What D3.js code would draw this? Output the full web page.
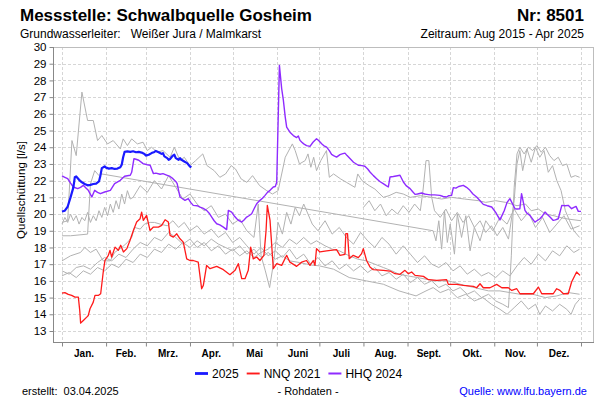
<!DOCTYPE html>
<html><head><meta charset="utf-8">
<script src="https://cdn.jsdelivr.net/npm/d3@7"></script>
<style>
body{margin:0;background:#fff;}
svg{display:block;font-family:"Liberation Sans",Arial,sans-serif;}
</style></head><body>
<svg id="chart" width="600" height="400"></svg>
<script>
// ---------- DATA ----------
const monthStarts = [0,31,59,90,120,151,181,212,243,273,304,334,365];
const monthLabels = ["Jan.","Feb.","Mrz.","Apr.","Mai","Juni","Juli","Aug.","Sept.","Okt.","Nov.","Dez."];
const yTicks = [13,14,15,16,17,18,19,20,21,22,23,24,25,26,27,28,29,30];
const legendLabels = ["2025","NNQ 2021","HHQ 2024"];

// [day of year, Quellschüttung l/s]
const series2025 = [[0,20.15],[2,20.2],[4,20.45],[6,21.0],[8,21.6],[9,22.2],[10,22.25],[12,22.05],[14,21.9],[16,21.8],[18,21.72],[20,21.75],[22,21.8],[24,21.82],[26,21.95],[27,22.3],[28,22.75],[30,22.85],[31,22.78],[33,22.72],[35,22.75],[37,22.7],[39,22.72],[41,22.8],[42,22.95],[43,23.4],[44,23.72],[46,23.75],[48,23.72],[50,23.76],[52,23.7],[54,23.72],[56,23.68],[58,23.6],[59,23.5],[61,23.55],[63,23.65],[65,23.72],[66,23.78],[68,23.7],[70,23.6],[71,23.65],[72,23.45],[74,23.35],[75,23.25],[76,23.3],[78,23.5],[79,23.55],[80,23.35],[82,23.25],[83,23.35],[84,23.25],[86,23.15],[88,23.05],[90,22.85],[91,22.8]];

const nnq2021 = [[0,15.27],[2,15.3],[4.4,15.19],[6.8,15.13],[9.1,15.03],[11.5,15.03],[12.5,14.2],[13.1,13.47],[15,13.63],[17.4,13.83],[18.5,13.93],[19.7,14.33],[22,14.73],[23.2,15.13],[25.5,15.13],[27.2,15.23],[29,16.53],[30.2,17.22],[32.6,17.53],[33.8,17.83],[34.9,17.43],[37.3,18.02],[39.6,17.83],[41.3,18.13],[43.2,17.73],[45.6,17.93],[47.8,18.42],[50.2,19.02],[52.5,19.52],[54.9,19.72],[56,20.12],[57.2,19.62],[59.5,19.92],[61.9,19.02],[64.3,19.22],[67.8,19.22],[70.1,19.32],[72.5,19.66],[74.8,19.52],[76,18.72],[78.3,18.62],[80.7,18.82],[83,18.52],[85.3,18.32],[87.7,17.32],[90,17.22],[92.3,17.22],[95.8,17.12],[98.2,15.53],[99.4,15.73],[101.7,16.93],[104.1,16.73],[108.8,16.87],[113.5,16.67],[118.1,16.37],[121.7,16.63],[124,17.03],[126.4,16.13],[128.7,16.13],[131,16.63],[132.7,18.02],[134.5,17.32],[136.9,17.43],[139.2,17.22],[142,17.53],[143.5,19.0],[144.4,20.52],[146.3,19.62],[148.6,16.73],[151,17.03],[154.5,16.93],[158,17.53],[160.3,17.12],[165,16.87],[168.5,17.12],[172,17.22],[174.4,16.93],[176.7,17.22],[177.9,16.93],[179,17.93],[181.4,17.73],[186.1,17.79],[193.1,17.87],[195.5,17.53],[199,17.59],[199.6,18.83],[200.8,18.83],[202,17.33],[204.8,17.53],[208.4,17.39],[210.7,17.63],[211.9,17.93],[214.2,17.22],[216.6,16.83],[218.9,16.67],[226,16.63],[230.7,16.59],[234.2,16.43],[237.7,16.39],[241.2,16.63],[243.6,16.43],[245.9,16.53],[248.3,16.33],[254.2,16.27],[257.7,16.07],[263.6,16.03],[270.5,16.07],[271.7,15.79],[277.6,15.79],[282.2,15.73],[289.3,15.67],[291.6,15.59],[294,15.83],[296.3,15.59],[301,15.59],[305.7,15.79],[309.3,15.59],[313.9,15.59],[316.3,15.43],[319.8,15.53],[322.1,15.23],[331.5,15.23],[335,15.63],[337.4,15.23],[345.5,15.23],[347.9,15.53],[350.2,15.43],[352.6,15.23],[356,15.23],[358.4,15.93],[361.9,16.53],[364.3,16.33]];

const hhq2024 = [[0,22.28],[2,22.2],[4,22.12],[6,21.85],[8,21.62],[11,21.52],[13,21.6],[15,21.72],[17,21.55],[18.5,21.42],[21,21.02],[23,21.42],[25,21.3],[27,21.22],[30,21.32],[34,21.42],[37,21.82],[41,22.02],[44,22.26],[48,22.32],[49,22.5],[50.6,23.32],[52,23.28],[54,23.22],[57,23.02],[60,22.95],[62,22.92],[63,22.7],[64.3,22.42],[66,22.45],[69,22.38],[71,22.42],[74,22.32],[76,22.25],[78,22.12],[80,21.95],[81,21.82],[82,21.4],[83,21.02],[85,20.9],[86.5,20.82],[88.8,20.92],[90.5,20.7],[92.3,20.52],[95,20.5],[97,20.42],[99,20.35],[101.7,20.22],[103.5,20.05],[105.3,19.82],[107,19.6],[108.8,19.42],[111,19.35],[113.5,19.22],[115.8,19.07],[117,20.22],[119.3,20.12],[121,19.9],[122.9,19.72],[124.5,19.6],[126.4,19.52],[128,19.65],[129.9,19.82],[131.5,19.9],[133.4,20.02],[135,20.3],[136.9,20.62],[139.2,20.82],[141,20.95],[142.8,21.12],[144.5,21.3],[146.3,21.42],[148.6,21.62],[150,21.65],[151,21.9],[152.9,28.9],[154.5,27.5],[155.7,26.8],[157,25.8],[158,25.2],[160.3,24.9],[162.7,24.7],[165,24.58],[166.2,24.67],[167.4,24.41],[168.5,24.31],[170,24.2],[172,24.1],[174.4,24.05],[176.5,24.3],[179,24.51],[180.5,24.4],[182.6,24.21],[184,24.1],[186.1,24.01],[188,23.8],[189.6,23.57],[191,23.5],[193.1,23.41],[195.5,23.56],[197,23.6],[199,23.65],[200.5,23.5],[202.5,23.32],[205,23.1],[208.4,22.92],[211,22.9],[213,22.86],[215,22.7],[216.6,22.52],[219,22.3],[221.3,22.12],[223.5,21.95],[225.9,21.82],[228,21.7],[229.5,21.62],[230.7,22.22],[233,22.25],[235,22.28],[237.7,22.32],[240.1,21.92],[242,21.7],[244.8,21.52],[246.5,21.35],[248.3,21.18],[250,21.2],[253,21.26],[255,21.2],[256.5,21.18],[259,21.15],[262,21.15],[265.8,21.12],[268,21.05],[270.5,21.02],[272,21.1],[274,21.12],[275.2,21.58],[277,21.55],[279,21.65],[282.2,21.72],[284.5,21.6],[286.9,21.42],[289,21.2],[291.6,21.02],[294,20.8],[296.3,20.58],[299,20.5],[302.2,20.42],[305,20.1],[308,19.65],[311,20.2],[313,20.7],[315,20.92],[318.6,20.32],[320,20.3],[322,20.32],[323.2,21.22],[325.6,20.22],[327,20.05],[329.1,19.92],[331,19.7],[332.6,19.52],[334,19.6],[336.1,19.72],[338,19.9],[339.7,20.12],[341,20.0],[343.2,19.82],[345.5,19.62],[347,19.65],[349,19.72],[351.5,20.52],[354,20.5],[356,20.52],[358.4,20.32],[360,20.4],[361.5,20.46],[363.1,20.16],[365,20.16]];

// grey lines: other years
const greyA = [[0,19.5],[4,19.6],[7,24.4],[10,23.5],[14,27.3],[18,25.6],[22,25.6],[25,24.4],[28,24.7],[32,24.2],[36,24.4],[41,23.9],[43,24.5],[46,24.1],[49,24.5],[53,24.2],[57,24.3],[60,23.8],[63,24.0],[67,23.7],[71,23.8],[76,23.4],[79,24.0],[83,23.2],[86,23.4],[90,22.9],[94,23.2],[99,23.6],[102,22.9],[107,22.6],[111,22.2],[115,22.4],[119,22.9],[122,22.7],[126,22.1],[130,21.9],[134,22.3],[139,21.7],[144,21.4],[148,21.2],[152,21.4],[157,23.4],[162,24.2],[164,23.8],[167,23.0],[171,23.2],[173,23.6],[175,22.8],[177,23.4],[179,22.6],[182,23.2],[186,23.8],[188,22.2],[191,22.4],[196,22.1],[200,21.9],[206,21.6],[208,22.4],[211,22.0],[216,21.7],[220,21.5],[226,21.0],[230,21.1],[235,21.3],[240,21.2],[245,21.0],[252,21.1],[260,21.0],[267,20.9],[274,21.0],[283,20.9],[293,20.8],[298,20.7],[305,20.8],[312,20.7],[320,20.5],[326,20.6],[330,20.2],[335,20.3],[340,20.0],[346,19.9],[350,19.8],[356,19.7],[365,19.6]];
const greyB = [[0,18.7],[6,18.7],[12,18.75],[18,18.8],[20,21.8],[23,22.6],[26,22.3],[28,22.4],[261,19.0],[263,18.4],[265,19.6],[267,17.9],[269,20.2],[271,18.3],[273,19.4],[276,17.6],[278,20.0],[281,18.6],[284,19.9],[287,17.8],[290,19.2],[294,18.4],[298,19.6],[303,19.0],[308,19.8],[313,19.4],[318,20.3],[323,19.6],[328,20.1],[333,19.2],[338,19.8],[343,18.9],[348,19.4],[353,19.9],[358,19.1],[364,19.3]];
const greyC = [[0,19.4],[2,19.8],[4,19.5],[6,20.0],[8,19.6],[10,19.9],[12,19.4],[14,19.8],[16,19.6],[18,20.1],[20,19.5],[22,19.9],[24,19.6],[26,20.2],[28,19.8],[30,20.4],[32,19.9],[34,20.6],[36,20.1],[38,20.8],[40,20.3],[42,21.2],[44,20.6],[46,21.4],[48,20.9],[50,21.0],[55,21.7],[60,21.3],[65,22.0],[70,21.5],[75,22.3],[80,21.6],[85,20.9],[90,21.2],[95,20.6],[100,20.2],[105,20.5],[110,19.8],[115,20.0],[120,19.4],[125,19.7],[130,19.0],[135,18.6],[138,20.6],[140,17.5],[143,16.6],[146,15.6],[149,17.2],[152,19.5],[155,18.8],[158,20.1],[161,19.4],[164,20.4],[167,19.9],[170,20.6],[173,20.0],[176,19.4],[180,19.0],[185,19.6],[190,18.8],[195,19.2],[200,18.6],[205,18.2],[210,18.9],[215,18.4],[220,18.0],[225,18.6],[230,18.2],[235,17.6],[240,18.1],[245,17.6],[250,17.1],[255,17.5],[260,17.0],[265,16.8],[270,17.1],[275,16.6],[280,16.9],[285,16.4],[290,16.7],[295,16.3],[300,16.5],[305,16.2],[310,16.6],[315,16.3],[320,16.9],[325,17.4],[330,17.0],[335,17.6],[340,17.2],[345,17.8],[350,17.5],[355,18.1],[360,17.7],[364,17.9]];
const greyD = [[0,17.2],[6,17.5],[13,17.7],[16,18.0],[20,17.7],[24,17.9],[29,17.2],[34,17.2],[37,17.7],[42,18.0],[46,18.3],[49,18.6],[51,19.2],[55,19.1],[58,19.4],[62,19.5],[65,19.5],[69,19.4],[74,19.3],[78,19.6],[82,19.2],[86,19.5],[90,19.0],[95,19.3],[100,18.8],[105,19.1],[110,18.6],[115,18.9],[120,18.3],[125,18.6],[130,18.1],[135,17.6],[140,18.0],[145,17.5],[150,17.8],[155,17.4],[160,17.9],[165,17.3],[170,17.6],[175,17.0],[180,17.4],[185,16.9],[190,17.2],[195,16.7],[200,17.0],[205,16.6],[210,16.9],[215,16.5],[220,16.8],[225,16.3],[230,16.5],[235,16.1],[240,16.4],[245,15.9],[250,16.2],[255,15.8],[260,16.0],[265,15.6],[270,15.8],[275,15.4],[280,15.6],[285,15.2],[290,15.4],[295,15.0],[300,15.2],[305,14.8],[310,14.6],[314,14.4],[316,17.5],[318,21.6],[320,23.6],[322,24.0],[325,23.6],[328,24.0],[331,23.8],[334,24.1],[337,23.7],[340,24.0],[343,23.5],[346,23.2],[349,23.4],[352,22.9],[355,23.0],[358,22.2],[361,22.3],[364,22.2]];
const greyE = [[0,16.6],[5,16.4],[10,16.8],[15,16.9],[20,16.7],[25,17.1],[30,17.4],[35,17.2],[40,17.6],[45,17.4],[50,17.9],[55,18.3],[60,18.1],[65,18.6],[70,18.4],[75,18.9],[80,18.6],[85,18.2],[90,18.5],[95,18.0],[100,18.3],[105,17.8],[110,18.1],[115,17.6],[120,17.9],[125,17.5],[130,17.8],[135,17.4],[140,17.7],[145,17.9],[150,18.3],[155,18.0],[160,18.5],[165,18.2],[170,18.6],[175,18.2],[179,18.4],[185,18.1],[190,17.9],[195,17.8],[202,17.5],[208,17.3],[214,17.2],[220,17.0],[226,16.8],[232,16.6],[237,16.4],[243,16.3],[250,16.2],[256,16.1],[263,16.0],[272,16.0],[280,15.8],[290,15.6],[300,15.4],[308,15.4],[315,15.3],[322,15.2],[331,15.2],[340,15.0],[348,15.1],[356,15.3],[364,15.2]];
const greyF = [[0,16.3],[5,16.5],[10,16.2],[15,16.6],[20,16.4],[25,16.8],[30,16.6],[35,17.0],[40,16.8],[45,17.3],[50,17.1],[55,17.6],[60,17.4],[65,17.9],[70,17.7],[75,18.2],[80,17.9],[85,18.3],[90,18.0],[95,18.4],[100,18.1],[105,18.5],[110,18.2],[115,18.0],[120,17.8],[125,18.1],[130,17.6],[135,17.9],[140,17.4],[145,17.7],[150,17.3],[155,17.5],[160,17.2],[167,17.1],[175,16.95],[181,16.9],[191,16.7],[202,16.2],[214,16.0],[226,15.8],[237,15.4],[249,15.1],[256,15.4],[261,15.6],[266,15.3],[272,15.5],[278,15.0],[284,15.2],[290,14.8],[296,15.0],[302,14.6],[308,14.3],[313,14.0],[318,14.4],[323,14.8],[328,14.3],[333,14.6],[336,14.0],[340,14.5],[345,14.2],[350,14.6],[355,14.3],[358,14.0],[361,14.6],[364,14.9]];
const greyG = [[212,20.4],[216,20.8],[220,20.2],[224,20.6],[228,19.9],[232,20.3],[236,20.0],[240,20.5],[244,20.1],[248,20.6],[252,20.2],[254,21.5],[256,23.2],[258,23.2],[260,21.0],[262,20.2],[266,19.8],[270,20.3],[274,19.6],[278,20.1],[282,19.5],[286,19.9],[290,19.2],[294,19.6],[298,18.9],[302,19.3],[306,18.7],[310,19.2],[314,18.5],[318,20.8],[320,23.0],[322,23.8],[324,22.6],[327,23.9],[330,23.1],[333,24.0],[336,23.4],[339,23.8],[342,22.5],[345,22.9],[348,22.0],[351,21.4],[354,20.2],[357,19.6],[360,19.0],[364,18.6]];
const greySeries = [greyA, greyB, greyC, greyD, greyE, greyF, greyG];

// ---------- DRAW ----------
const svg = d3.select("#chart");
const P = {left:53, right:593, top:47, bottom:342};
const x = d3.scaleLinear().domain([0,365]).range([62,581]);
const y = d3.scaleLinear().domain([13,30]).range([331,47]);
const FONT = '"Liberation Sans", Arial, sans-serif';

// header
svg.append("text").attr("x",20).attr("y",21).attr("font-size",17).attr("font-weight","bold").text("Messstelle: Schwalbquelle Gosheim");
svg.append("text").attr("x",584).attr("y",21).attr("text-anchor","end").attr("font-size",17).attr("font-weight","bold").text("Nr: 8501");
svg.append("text").attr("x",20).attr("y",38).attr("font-size",12).style("white-space","pre").text("Grundwasserleiter:   Weißer Jura / Malmkarst");
svg.append("text").attr("x",584).attr("y",38).attr("text-anchor","end").attr("font-size",12).text("Zeitraum: Aug 2015 - Apr 2025");

// grid
const grid = svg.append("g").attr("stroke","#d6d6d6").attr("stroke-dasharray","3,2").attr("stroke-width",1);
grid.selectAll("line.h").data(yTicks).join("line").attr("class","h")
  .attr("x1",P.left).attr("x2",P.right).attr("y1",d=>Math.round(y(d))+0.5).attr("y2",d=>Math.round(y(d))+0.5);
grid.selectAll("line.v").data(monthStarts).join("line").attr("class","v")
  .attr("y1",P.top).attr("y2",P.bottom).attr("x1",d=>Math.round(x(d))+0.5).attr("x2",d=>Math.round(x(d))+0.5);

// clip
svg.append("clipPath").attr("id","clip").append("rect").attr("x",P.left).attr("y",P.top).attr("width",P.right-P.left).attr("height",P.bottom-P.top);
const line = d3.line().x(d=>x(d[0])).y(d=>y(d[1]));
const lines = svg.append("g").attr("clip-path","url(#clip)").attr("fill","none").attr("stroke-linejoin","round");
lines.selectAll("path.grey").data(greySeries).join("path").attr("class","grey")
  .attr("d",line).attr("stroke","#b2b2b2").attr("stroke-width",1);
lines.append("path").datum(nnq2021).attr("d",line).attr("stroke","#ff1a1a").attr("stroke-width",1.3);
lines.append("path").datum(hhq2024).attr("d",line).attr("stroke","#8f2bff").attr("stroke-width",1.4);
lines.append("path").datum(series2025).attr("d",line).attr("stroke","#1a1aff").attr("stroke-width",2.2);

// frame
svg.append("line").attr("x1",P.left+0.5).attr("x2",P.right+0.5).attr("y1",P.top+0.5).attr("y2",P.top+0.5).attr("stroke","#bdbdbd");
svg.append("line").attr("x1",P.right+0.5).attr("x2",P.right+0.5).attr("y1",P.top).attr("y2",P.bottom).attr("stroke","#bdbdbd");

// axes
const yAxis = svg.append("g").attr("transform",`translate(${P.left+0.5},0)`)
  .call(d3.axisLeft(y).tickValues(yTicks).tickSize(4).tickSizeOuter(0).tickPadding(3).tickFormat(d3.format("d")));
yAxis.select(".domain").remove();
yAxis.selectAll(".tick line").attr("stroke","#888");
yAxis.selectAll("text").attr("font-size",11.5).attr("font-family",FONT).attr("fill","#000");

const xAxis = svg.append("g").attr("transform",`translate(0,${P.bottom+0.5})`)
  .call(d3.axisBottom(x).tickValues(monthStarts).tickSize(4).tickSizeOuter(0).tickFormat(""));
xAxis.select(".domain").remove();
xAxis.selectAll(".tick line").attr("stroke","#888");

svg.append("line").attr("x1",P.left+0.5).attr("x2",P.left+0.5).attr("y1",P.top).attr("y2",P.bottom+1).attr("stroke","#888");
svg.append("line").attr("x1",P.left).attr("x2",P.right+1).attr("y1",P.bottom+0.5).attr("y2",P.bottom+0.5).attr("stroke","#888");

// month labels
svg.append("g").selectAll("text").data(monthLabels).join("text")
  .attr("x",(d,i)=>x((monthStarts[i]+monthStarts[i+1])/2)).attr("y",357)
  .attr("text-anchor","middle").attr("font-size",10).attr("font-weight","bold").text(d=>d);

// y title
svg.append("text").attr("transform","translate(25,190) rotate(-90)").attr("text-anchor","middle")
  .attr("font-size",11.5).text("Quellschüttung [l/s]");

// legend
const legColors = ["#1a1aff","#ff1a1a","#8f2bff"];
const legWidths = [2.2,1.3,1.4];
let lx = 195;
legendLabels.forEach((lab,i)=>{
  svg.append("line").attr("x1",lx).attr("x2",lx+13).attr("y1",373.5).attr("y2",373.5).attr("stroke",legColors[i]).attr("stroke-width",legWidths[i]+0.6);
  const t = svg.append("text").attr("x",lx+17).attr("y",378).attr("font-size",12).text(lab);
  lx += 17 + t.node().getComputedTextLength() + 8;
});

// footer
svg.append("text").attr("x",22).attr("y",395).attr("font-size",11).style("white-space","pre").text("erstellt:  03.04.2025");
svg.append("text").attr("x",308).attr("y",395).attr("text-anchor","middle").attr("font-size",11).text("- Rohdaten -");
svg.append("text").attr("x",587).attr("y",395).attr("text-anchor","end").attr("font-size",11).attr("fill","#0000ff").text("Quelle: www.lfu.bayern.de");
</script>
</body></html>
